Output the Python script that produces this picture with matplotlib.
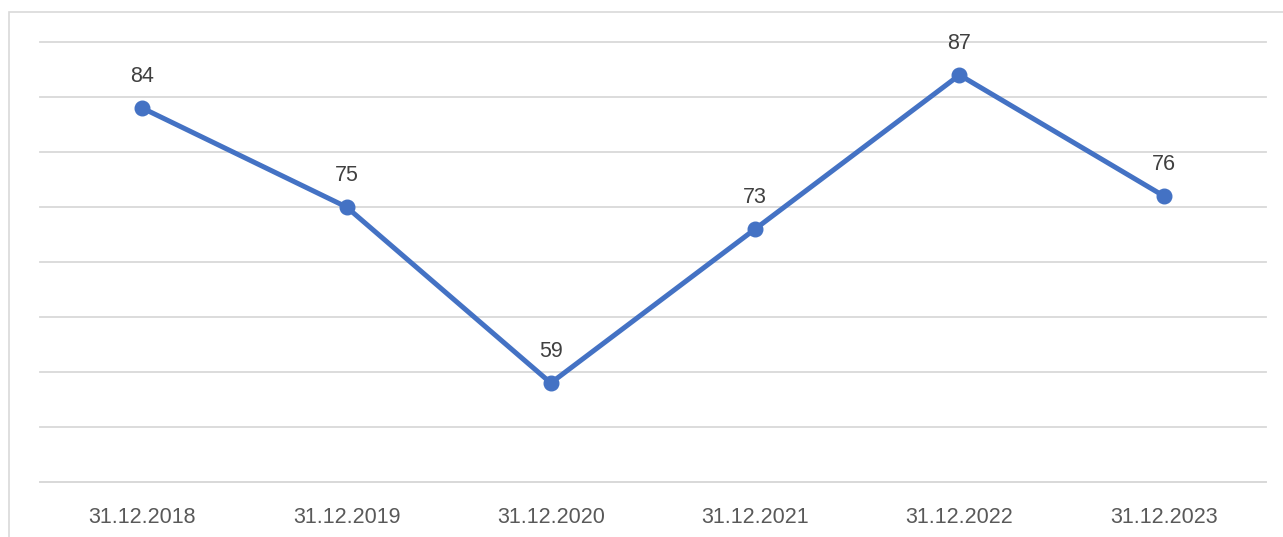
import matplotlib.pyplot as plt
import matplotlib.patches as patches
import numpy as np

dates = ["31.12.2018", "31.12.2019", "31.12.2020", "31.12.2021", "31.12.2022", "31.12.2023"]
values = [84, 75, 59, 73, 87, 76]

plt.rcParams['font.family'] = ['Liberation Sans', 'DejaVu Sans']

fig = plt.figure(figsize=(12.83, 5.37), dpi=100)
ax = fig.add_axes([40 / 1283, 55 / 537, 1226 / 1283, 440 / 537])

x = np.arange(len(dates))
ax.plot(x, values, color='#4472C4', linewidth=3.6, marker='o', markersize=10.5,
        solid_capstyle='round', zorder=3, clip_on=False)

for xi, v in zip(x, values):
    ax.annotate(str(v), (xi, v), xytext=(0, 23), textcoords='offset points',
                ha='center', va='center', fontsize=15.5, color='#404040')

ax.set_xlim(-0.5, len(dates) - 0.5)
ax.set_ylim(50, 90)
ax.set_yticks(np.arange(50, 91, 5))
ax.yaxis.grid(True, color='#D9D9D9', linewidth=1.3)
for gl in ax.get_ygridlines():
    gl.set_clip_on(False)
ax.set_axisbelow(True)
ax.tick_params(axis='y', left=False, labelleft=False)
ax.set_xticks(x)
ax.set_xticklabels(dates, fontsize=15.5, color='#595959')
ax.tick_params(axis='x', length=0, pad=18)

for s in ['top', 'left', 'right']:
    ax.spines[s].set_visible(False)
ax.spines['bottom'].set_color('#D9D9D9')
ax.spines['bottom'].set_linewidth(1.3)

# outer chart border
border = patches.Rectangle((9 / 1283, -0.05), 1.1, (537 - 12) / 537 + 0.05,
                           transform=fig.transFigure, fill=False,
                           edgecolor='#D9D9D9', linewidth=1.2, clip_on=False)
fig.patches.append(border)

fig.savefig("out.png", dpi=100)
